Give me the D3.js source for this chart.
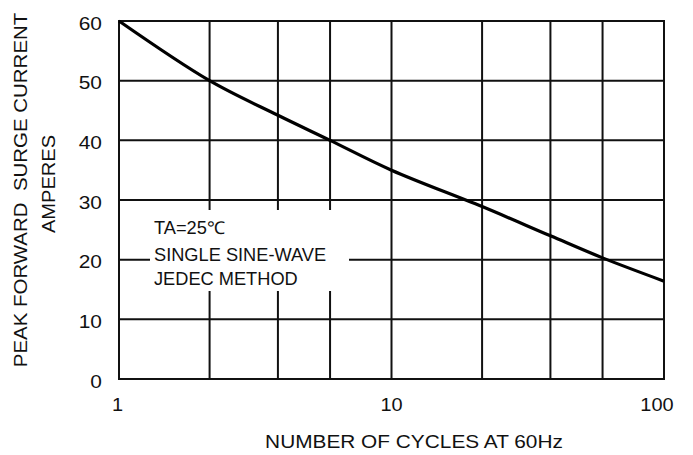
<!DOCTYPE html>
<html><head><meta charset="utf-8">
<script src="https://cdn.jsdelivr.net/npm/d3@7"></script>
<style>
html,body{margin:0;padding:0;background:#fff;}
svg{display:block;}
text{font-family:"Liberation Sans",Arial,sans-serif;fill:#111;}
</style></head>
<body>
<svg id="chart" width="693" height="455"></svg>
<script>
// ---- data ----
const curveX = [1, 2.15, 3.83, 5.95, 10, 21.5, 38.3, 59.5, 100];
const curveY = [60, 50, 44.2, 40, 35, 28.9, 24.0, 20.3, 16.4];
const gridX = [2.15, 3.83, 5.95, 10, 21.5, 38.3, 59.5];
const gridY = [10, 20, 30, 40, 50];
const xTicks = [1, 10, 100];
const xTickLabels = ["1", "10", "100"];
const yTicks = [0, 10, 20, 30, 40, 50, 60];
const yTickLabels = ["0", "10", "20", "30", "40", "50", "60"];
const annotation = ["TA=25\u2103", "SINGLE SINE-WAVE", "JEDEC METHOD"];
const xTitle = "NUMBER OF CYCLES AT 60Hz";
const yTitle = ["PEAK FORWARD  SURGE CURRENT", "AMPERES"];

// ---- layout ----
const L = 119, R = 664, T = 21, B = 379;
const svg = d3.select("#chart");
const x = d3.scaleLog().domain([1, 100]).range([L, R]);
const y = d3.scaleLinear().domain([0, 60]).range([B, T]);

function stretch(sel, f) {
  sel.each(function () {
    const w = this.getComputedTextLength();
    d3.select(this).attr("textLength", w * f).attr("lengthAdjust", "spacingAndGlyphs");
  });
}

const g = svg.append("g");
// grid
g.selectAll(".gx").data(gridX).join("line")
  .attr("x1", d => x(d)).attr("x2", d => x(d)).attr("y1", T).attr("y2", B)
  .attr("stroke", "#111").attr("stroke-width", 2);
g.selectAll(".gy").data(gridY).join("line")
  .attr("y1", d => y(d)).attr("y2", d => y(d)).attr("x1", L).attr("x2", R)
  .attr("stroke", "#111").attr("stroke-width", 2);

// white box behind annotation
g.append("rect").attr("x", 150).attr("y", 210).attr("width", 199).attr("height", 81).attr("fill", "#fff");

// frame
g.append("rect").attr("x", L).attr("y", T).attr("width", R - L).attr("height", B - T)
  .attr("fill", "none").attr("stroke", "#111").attr("stroke-width", 2);

// curve
const pts = curveX.map((d, i) => [d, curveY[i]]);
g.append("path").datum(pts)
  .attr("d", d3.line().x(d => x(d[0])).y(d => y(d[1])).curve(d3.curveCatmullRom.alpha(0.5)))
  .attr("fill", "none").attr("stroke", "#000").attr("stroke-width", 3.2);

// y tick labels
const yl = svg.append("g").selectAll("text").data(yTicks).join("text")
  .attr("x", 102).attr("y", d => y(d) + 2).attr("dominant-baseline", "central")
  .attr("text-anchor", "end").attr("font-size", 19).text((d, i) => yTickLabels[i]);
stretch(yl, 1.1);

// x tick labels
const xl = svg.append("g").selectAll("text").data(xTicks).join("text")
  .attr("x", (d, i) => x(d) + (i === 0 ? -1.5 : i === 2 ? -7 : 0)).attr("y", 411)
  .attr("text-anchor", "middle").attr("font-size", 19).text((d, i) => xTickLabels[i]);
stretch(xl, 1.05);

// annotation
const an = svg.append("g").selectAll("text").data(annotation).join("text")
  .attr("x", 154).attr("y", (d, i) => [233.5, 261, 285][i])
  .attr("font-size", 17.7).text(d => d);
stretch(an, 1.03);

// x title
const xt = svg.append("text").attr("x", 414).attr("y", 448).attr("text-anchor", "middle")
  .attr("font-size", 18.6).text(xTitle);
stretch(xt, 1.12);

// y title
const yt1 = svg.append("text").attr("transform", "translate(26.7,190) rotate(-90)")
  .attr("text-anchor", "middle").attr("font-size", 18.6).attr("xml:space", "preserve")
  .style("white-space", "pre").text(yTitle[0]);
stretch(yt1, 1.10);
const yt2 = svg.append("text").attr("transform", "translate(55,184) rotate(-90)")
  .attr("text-anchor", "middle").attr("font-size", 18.6).text(yTitle[1]);
stretch(yt2, 1.08);
</script>
</body></html>
